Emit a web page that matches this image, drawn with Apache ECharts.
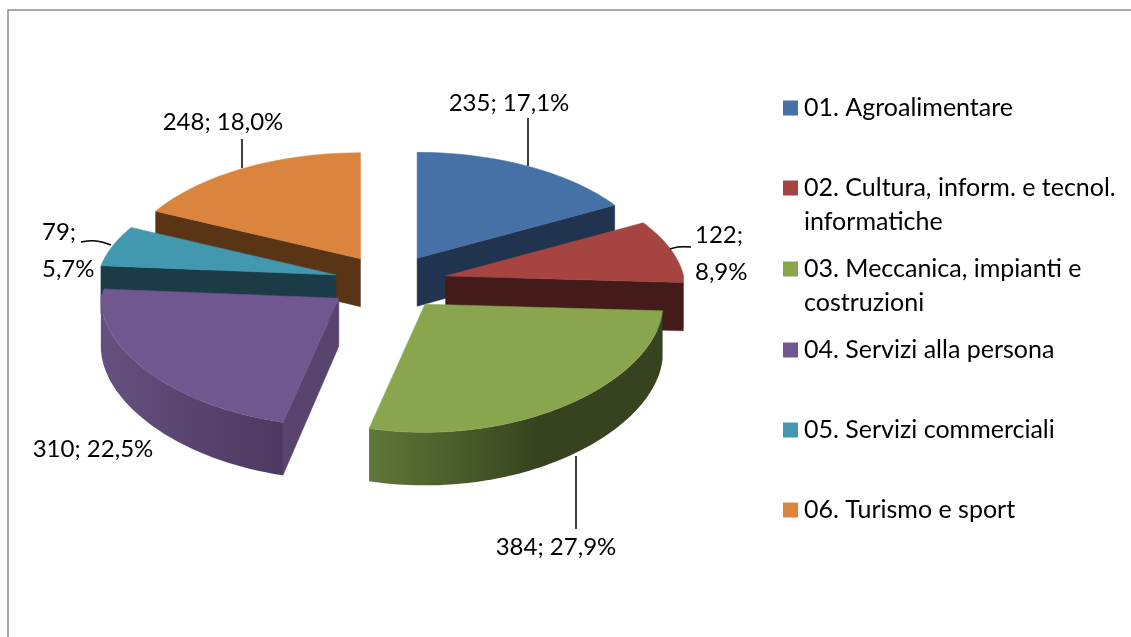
<!DOCTYPE html>
<html>
<head>
<meta charset="utf-8">
<title>Settori</title>
<script src="https://cdn.jsdelivr.net/npm/echarts@6/dist/echarts.min.js"></script>
<style>
html, body { margin: 0; padding: 0; background: #fff; }
#chart { width: 1131px; height: 637px; }
</style>
</head>
<body>
<div id="chart"></div>
<script type="text/javascript">
// dati
var categories = ['01. Agroalimentare', '02. Cultura, inform. e tecnol.\ninformatiche', '03. Meccanica, impianti e\ncostruzioni',
    '04. Servizi alla persona', '05. Servizi commerciali', '06. Turismo e sport'];
var values = [235, 122, 384, 310, 79, 248];
var percents = ['17,1%', '8,9%', '27,9%', '22,5%', '5,7%', '18,0%'];

// colori: faccia superiore, tagli, parete esterna (stop del gradiente)
var topColors = ['#4671A7', '#A64441', '#89A54E', '#71578F', '#4198AF', '#DB843D'];
var cutColors = ['#20344F', '#431C1A', '#3A4A20', '#59446F', '#1B3B47', '#5A3515'];
var wallStops = [null,
    [[0, '#431C1A'], [1, '#431C1A']],
    [[0, '#5F7739'], [0.58, '#36431E'], [1, '#36431E']],
    [[0, '#66507F'], [1, '#4C3860']],
    null, null];

// posizione etichette: [x, y, allineamento, separatore righe], guida: punti
var labelBox = [[509, 103, 'center', ' '], [695, 254, 'left', '\n'], [556, 547, 'center', ' '],
    [93, 449, 'center', ' '], [42, 251, 'left', '\n'], [223, 122, 'center', ' ']];
var leaders = [[[528, 118], [528, 166]], [[670, 249], [678, 247], [691, 247]], [[576, 456], [576, 529]],
    null, [[81, 242], [96, 241], [111, 245]], [[242, 139], [242, 168]]];
var legendY = [108, 188, 269, 350, 430, 510];

var FONT = 'Lato, "Noto Sans", sans-serif';
var cx = 389, cy = 282;       // centro torta
var explodeX = 57, explodeY = 27.6;
var nudgeX = [-1, 1, 2, -4, 2, 2];
var rx = 238, ry = 116;       // semiassi
var perspX = 0.12, perspY = 0.095, depth = 48;

var total = values.reduce(function (a, b) { return a + b; }, 0);

function renderSlice(i) {
    var before = 0;
    for (var k = 0; k < i; k++) before += values[k];

    return function (params, api) {
        var val = api.value(0);
        var start = before / total * Math.PI * 2;
        var end = (before + val) / total * Math.PI * 2;
        var mid = (start + end) / 2;
        var ax = cx + explodeX * Math.sin(mid) + nudgeX[i];
        var ay = cy - explodeY * Math.cos(mid);

        // punto sul bordo, con prospettiva; low = base della fetta
        function rim(t, low) {
            var v = Math.cos(t), s = 1 + perspY * v, sx = 1 + perspX * Math.max(v, 0);
            return [ax + rx * Math.sin(t) / sx, ay - ry * v / s + (low ? depth / s : 0)];
        }
        function arc(a, b, low) {
            var pts = [], n = Math.max(2, Math.ceil(Math.abs(b - a) * 40));
            for (var j = 0; j <= n; j++) pts.push(rim(a + (b - a) * j / n, low));
            return pts;
        }
        function face(points, fill) {
            return { type: 'polygon', shape: { points: points }, style: { fill: fill, stroke: fill, lineWidth: 0.5 } };
        }

        var children = [];
        var apexLow = [ax, ay + depth];
        // tagli visibili
        if (Math.sin(start) < -0.001) {
            children.push(face([[ax, ay], rim(start), rim(start, true), apexLow], cutColors[i]));
        }
        if (Math.sin(end) > 0.001) {
            children.push(face([[ax, ay], rim(end), rim(end, true), apexLow], cutColors[i]));
        }
        // parete esterna
        var a0 = Math.max(start, Math.PI / 2), a1 = Math.min(end, Math.PI * 1.5);
        if (a1 > a0 && wallStops[i]) {
            var stops = wallStops[i].map(function (s) { return { offset: s[0], color: s[1] }; });
            children.push({
                type: 'polygon',
                shape: { points: arc(a0, a1).concat(arc(a1, a0, true)) },
                style: { fill: new echarts.graphic.LinearGradient(0, 0, 1, 0, stops) }
            });
        }
        // faccia superiore
        children.push(face([[ax, ay]].concat(arc(start, end)), topColors[i]));

        // guida ed etichetta
        if (leaders[i]) {
            children.push({
                type: 'polyline',
                shape: { points: leaders[i], smooth: leaders[i].length > 2 ? 0.4 : 0 },
                style: { stroke: '#000', lineWidth: 1.5, fill: null }
            });
        }
        var box = labelBox[i];
        children.push({
            type: 'text',
            style: {
                x: box[0], y: box[1],
                text: val + ';' + box[3] + percents[i],
                fill: '#000', font: '24px ' + FONT, lineHeight: 37,
                align: box[2], verticalAlign: 'middle'
            }
        });
        return { type: 'group', children: children };
    };
}

// ordine di disegno: dal fondo verso chi guarda
var drawOrder = [5, 0, 4, 1, 3, 2];

var series = categories.map(function (name, i) {
    return {
        type: 'custom',
        name: name,
        coordinateSystem: 'none',
        z: 2 + drawOrder.indexOf(i),
        itemStyle: { color: topColors[i] },
        renderItem: renderSlice(i),
        data: [[values[i]]]
    };
});

var legends = categories.map(function (name, i) {
    return {
        data: [name],
        orient: 'vertical',
        left: 783,
        top: legendY[i] - 13,
        padding: 0,
        itemWidth: 15,
        itemHeight: 15,
        itemGap: 0,
        icon: 'rect',
        selectedMode: false,
        formatter: function (n) { return n.split('\n')[0]; },
        textStyle: { fontFamily: FONT, fontSize: 25, color: '#000', padding: [0, 0, 0, 1], lineHeight: 26 }
    };
});

// seconda riga delle voci di legenda e cornice
var graphics = [
    { type: 'polyline', shape: { points: [[8, 637], [8, 10], [1131, 10]] }, style: { stroke: '#8c8c8c', lineWidth: 1.5, fill: null } }
];
categories.forEach(function (name, i) {
    var parts = name.split('\n');
    if (parts[1]) {
        graphics.push({
            type: 'text',
            left: 804, top: legendY[i] + 34 - 13,
            style: { text: parts[1], fill: '#000', font: '25px ' + FONT, lineHeight: 26 }
        });
    }
});

var myChart = echarts.init(document.getElementById('chart'));
myChart.setOption({
    animation: false,
    backgroundColor: '#fff',
    legend: legends,
    graphic: graphics,
    series: series
});
</script>
</body>
</html>
